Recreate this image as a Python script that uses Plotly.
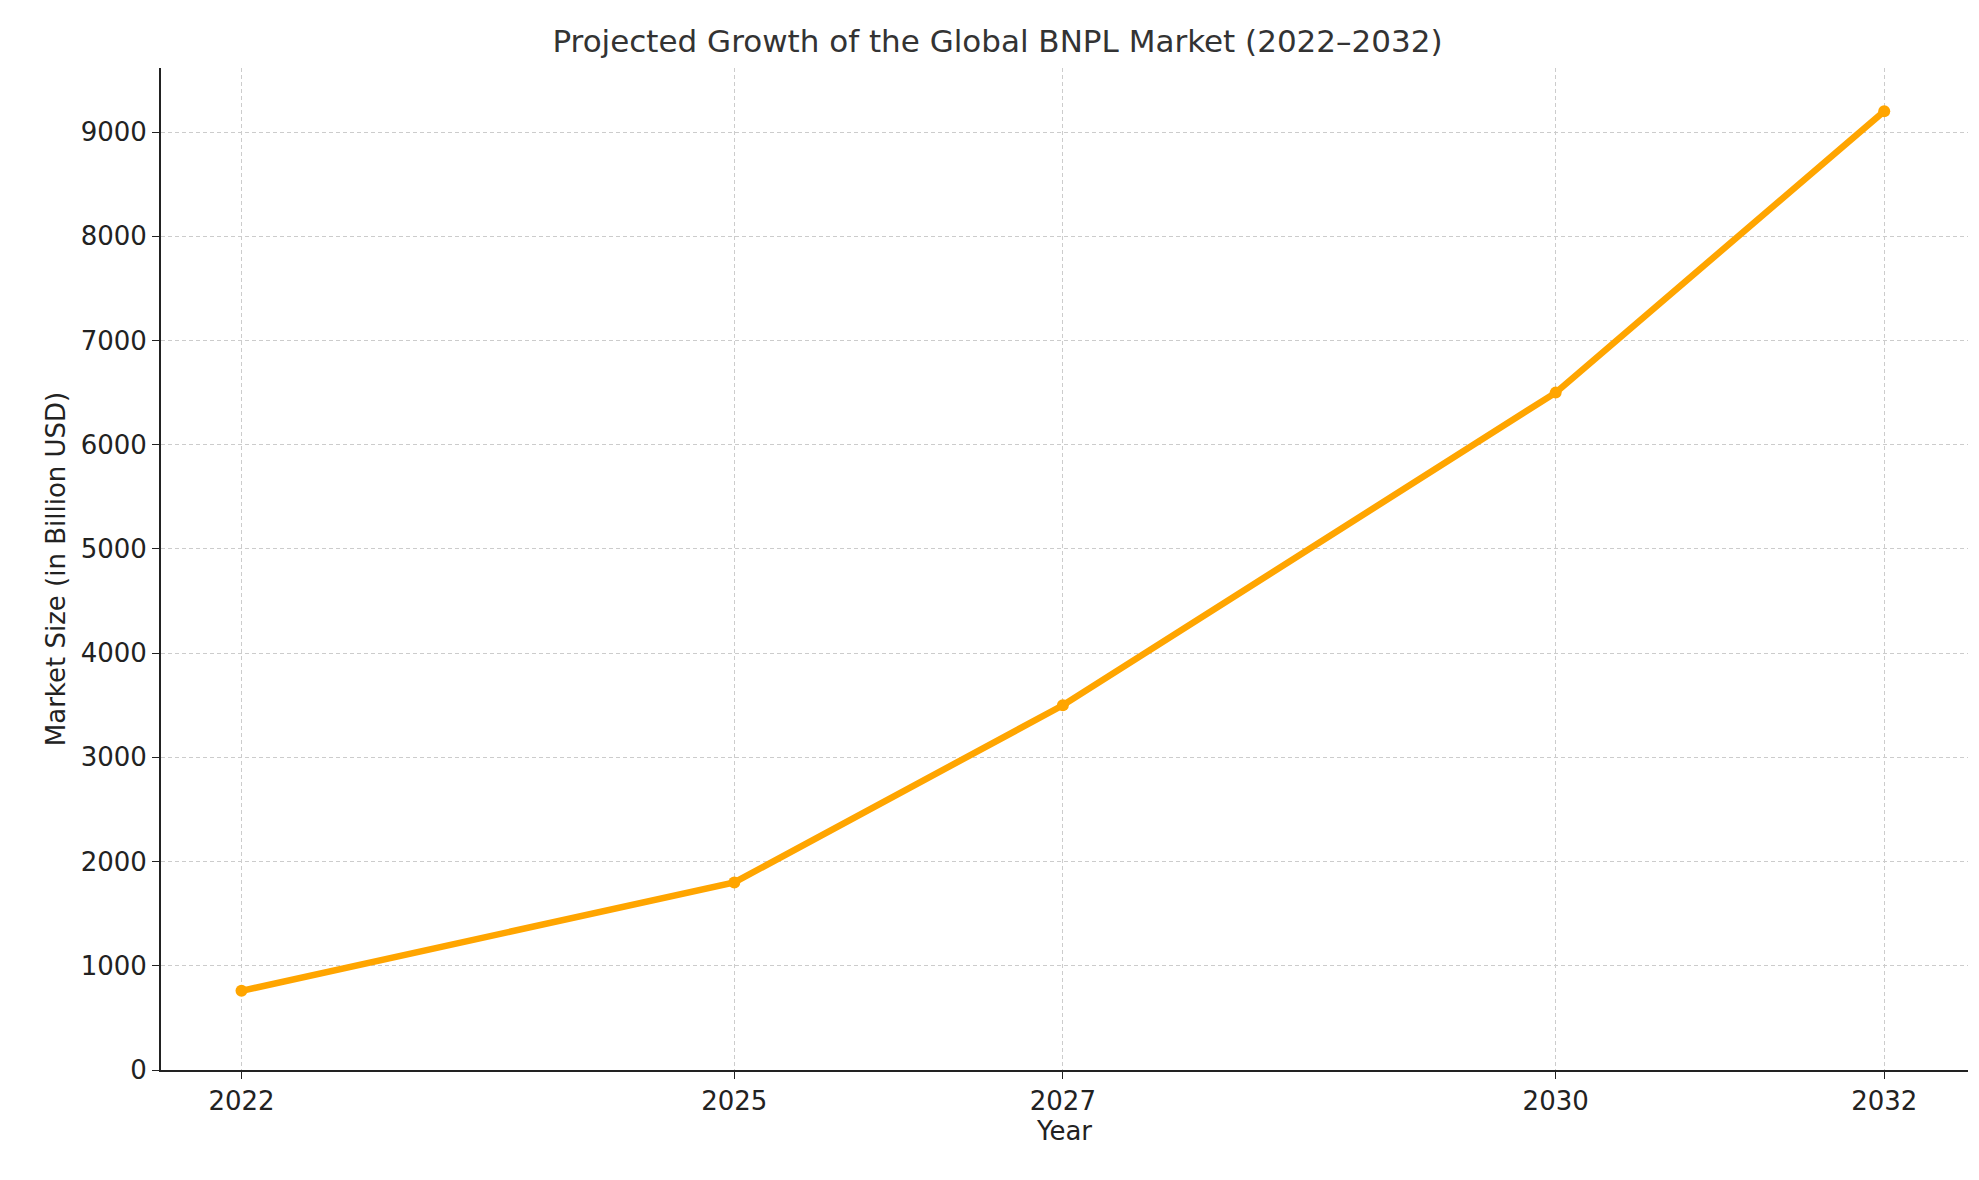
import plotly.graph_objects as go

years = [2022, 2025, 2027, 2030, 2032]
market_size = [760, 1800, 3500, 6500, 9200]
y_ticks = [0, 1000, 2000, 3000, 4000, 5000, 6000, 7000, 8000, 9000]

fig = go.Figure(go.Scatter(
    x=years, y=market_size, mode="lines+markers",
    line=dict(color="#FFA500", width=6.5),
    marker=dict(color="#FFA500", size=12),
))
font = "DejaVu Sans"
fig.update_layout(
    width=1979, height=1180,
    paper_bgcolor="white", plot_bgcolor="white",
    margin=dict(l=153, r=19, t=60, b=118),
    title=dict(text="Projected Growth of the Global BNPL Market (2022–2032)",
               x=0.5, xanchor="center", y=0.972, yanchor="middle",
               font=dict(family=font, size=31, color="#333333")),
    font=dict(family=font, size=26, color="#222222"),
    showlegend=False,
)
grid = dict(showgrid=True, gridcolor="#cccccc", griddash="4px,3px", gridwidth=1,
            zeroline=False, ticks="outside", ticklen=7, tickcolor="#222",
            tickfont=dict(size=26, color="#222"))
fig.update_xaxes(range=[2021.51, 2032.51], tickvals=years, ticktext=[str(y) for y in years],
                 title=dict(text="Year", font=dict(size=26), standoff=6),
                 showline=True, linecolor="#222", linewidth=2, **grid)
fig.update_yaxes(range=[0, 9615], tickvals=y_ticks,
                 title=dict(text="Market Size (in Billion USD)", font=dict(size=26), standoff=8),
                 showline=True, linecolor="#222", linewidth=2, **grid)
fig.write_html("out.html")
